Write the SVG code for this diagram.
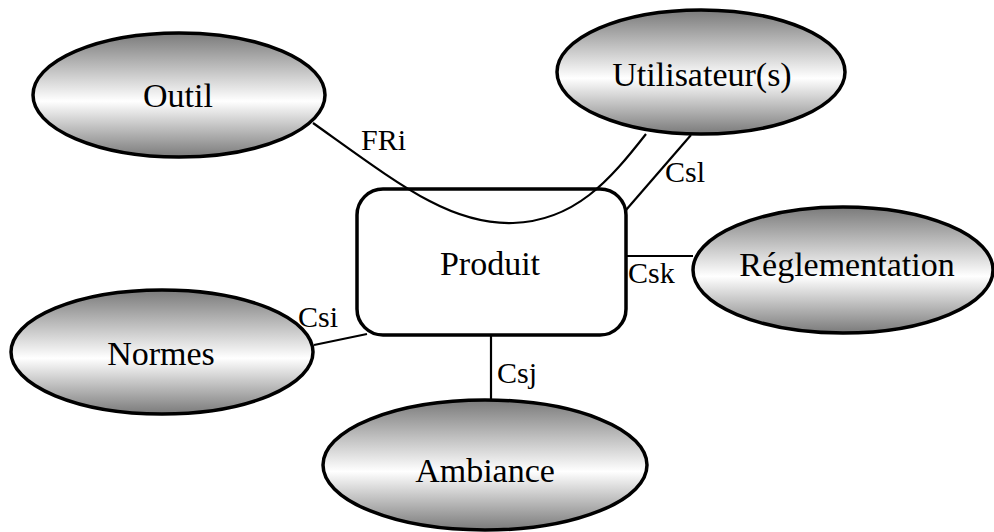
<svg xmlns="http://www.w3.org/2000/svg" width="994" height="532" viewBox="0 0 994 532">
<defs>
<linearGradient id="g" x1="0" y1="0" x2="0" y2="1">
<stop offset="0" stop-color="#7a7a7a"/>
<stop offset="0.55" stop-color="#ffffff"/>
<stop offset="1" stop-color="#7a7a7a"/>
</linearGradient>
</defs>
<style>
.ell{fill:url(#g);stroke:#000;stroke-width:3.5}
.box{fill:#fff;stroke:#000;stroke-width:3.5}
.t{font-family:"Liberation Serif","Times New Roman",serif;font-size:34px;fill:#000;text-anchor:middle}
.lbl{font-family:"Liberation Serif","Times New Roman",serif;font-size:30px;fill:#000}
.c{fill:none;stroke:#000;stroke-width:2.2}
</style>
<rect width="994" height="532" fill="#fff"/>
<g id="outil"><ellipse class="ell" cx="179" cy="95" rx="146" ry="62"/><text class="t" x="178" y="107">Outil</text></g>
<g id="utilisateurs"><ellipse class="ell" cx="701" cy="72" rx="144" ry="62"/><text class="t" x="702" y="86">Utilisateur(s)</text></g>
<g id="reglementation"><ellipse class="ell" cx="843" cy="270" rx="150" ry="63"/><text class="t" x="847" y="276">Réglementation</text></g>
<g id="normes"><ellipse class="ell" cx="162" cy="352" rx="151" ry="62"/><text class="t" x="161" y="365">Normes</text></g>
<g id="ambiance"><ellipse class="ell" cx="485" cy="465" rx="162" ry="65"/><text class="t" x="485" y="482">Ambiance</text></g>
<g id="produit"><rect class="box" x="357" y="189" width="269" height="146" rx="26" ry="26"/><text class="t" x="490" y="275">Produit</text></g>
<g id="connectors">
<path class="c" d="M313,123 C400,185 450,225 513,223 C575,221 610,180 646,134"/>
<line class="c" x1="691" y1="135" x2="626" y2="210"/>
<line class="c" x1="626" y1="256" x2="693" y2="256"/>
<line class="c" x1="491" y1="335" x2="491" y2="400"/>
<line class="c" x1="314" y1="345" x2="367" y2="334"/>
<text class="lbl" x="361" y="150">FRi</text>
<text class="lbl" x="665" y="182">Csl</text>
<text class="lbl" x="628" y="283">Csk</text>
<text class="lbl" x="298" y="327">Csi</text>
<text class="lbl" x="497" y="383">Csj</text>
</g>
</svg>
